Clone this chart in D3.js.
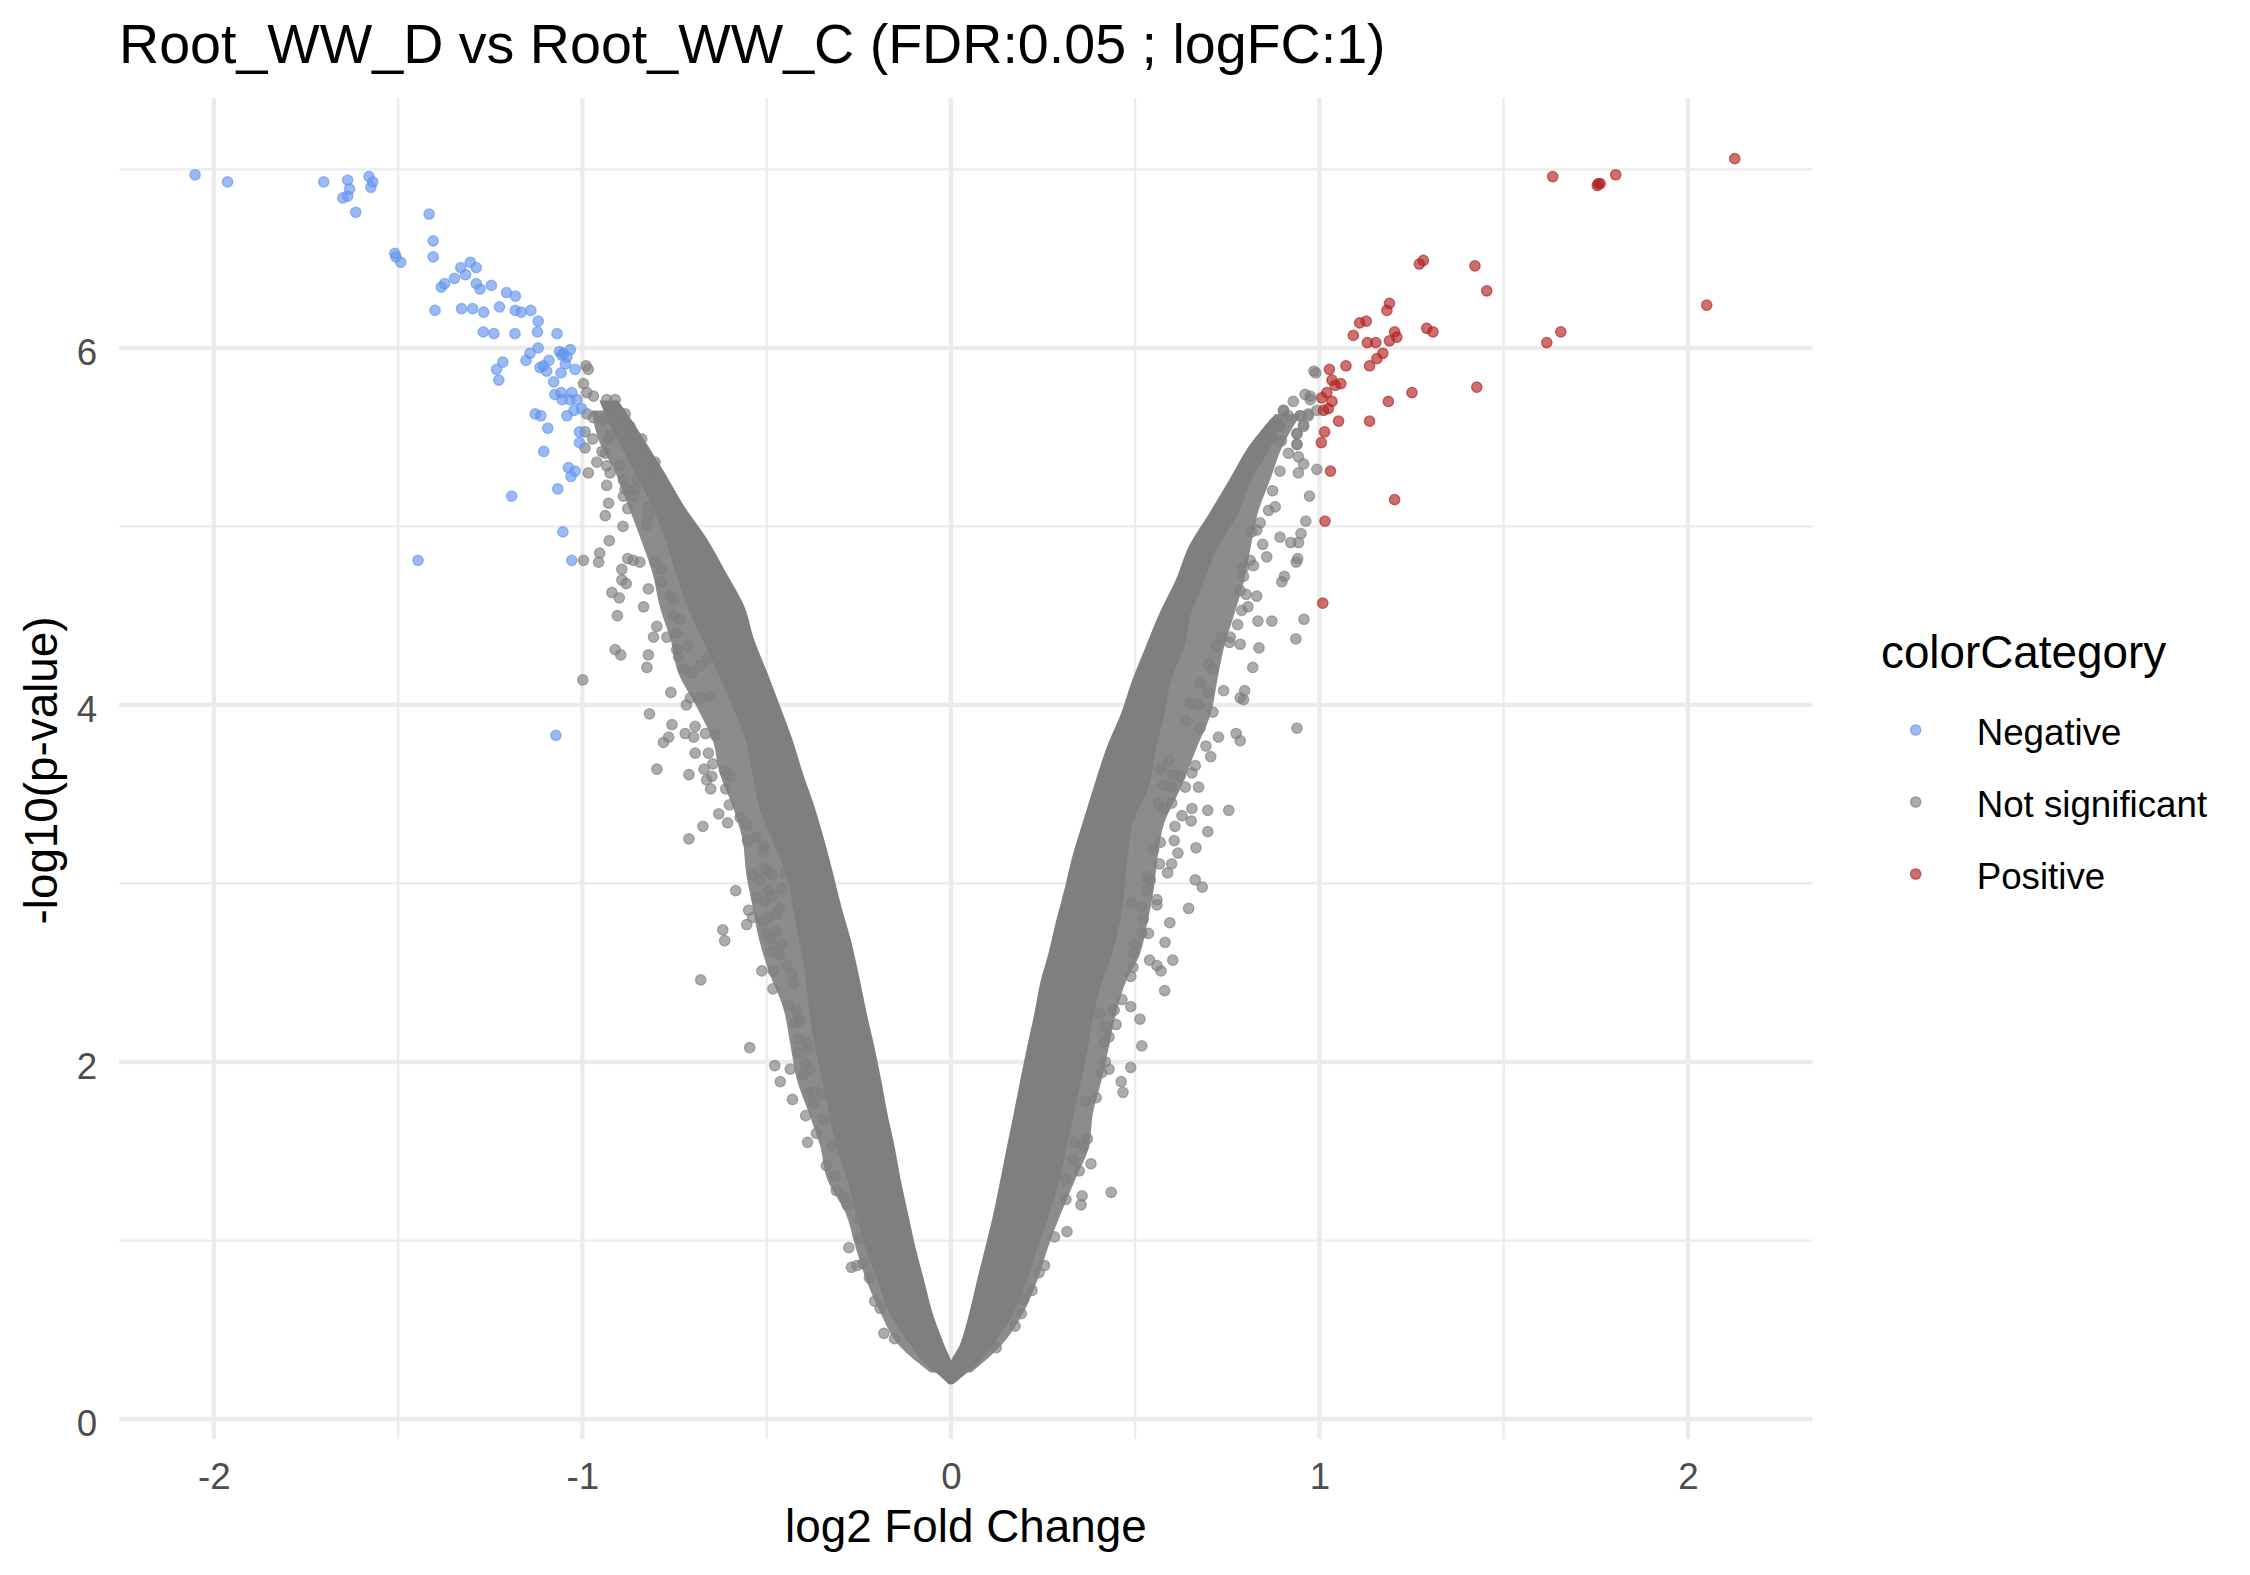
<!DOCTYPE html>
<html><head><meta charset="utf-8">
<script src="https://cdn.jsdelivr.net/npm/d3@7"></script>
<style>
body{margin:0;background:#fff}
svg{display:block}
text{font-family:"Liberation Sans",Arial,Helvetica,sans-serif}
</style>
</head><body>
<svg id="chart" width="2250" height="1575"></svg>
<script>
// ---------------- data ----------------
const titleText = "Root_WW_D vs Root_WW_C (FDR:0.05 ; logFC:1)";
const xLabel = "log2 Fold Change";
const yLabel = "-log10(p-value)";
const legendTitle = "colorCategory";
const categories = ["Negative", "Not significant", "Positive"];
const categoryColors = ["#6495ED", "#7F7F7F", "#B22222"];
const xTicks = [-2, -1, 0, 1, 2];
const yTicks = [0, 2, 4, 6];
const xMinorTicks = [-1.5, -0.5, 0.5, 1.5];
const yMinorTicks = [1, 3, 5, 7];

// significant, negative logFC  [log2FC, -log10 p]
const negativePoints = [
[-2.051,6.97],[-1.963,6.93],[-1.702,6.93],[-1.637,6.94],[-1.632,6.89],[-1.637,6.85],[-1.650,6.84],[-1.615,6.76],
[-1.579,6.96],[-1.569,6.93],[-1.574,6.90],[-1.416,6.75],[-1.405,6.60],[-1.405,6.51],[-1.509,6.53],[-1.506,6.51],
[-1.493,6.48],[-1.400,6.21],[-1.383,6.34],[-1.374,6.36],[-1.347,6.39],[-1.330,6.45],[-1.317,6.41],[-1.304,6.48],
[-1.288,6.45],[-1.288,6.36],[-1.278,6.33],[-1.247,6.35],[-1.328,6.22],[-1.298,6.22],[-1.268,6.20],[-1.225,6.23],
[-1.206,6.31],[-1.182,6.29],[-1.182,6.21],[-1.166,6.20],[-1.140,6.21],[-1.120,6.15],[-1.122,6.09],[-1.269,6.09],
[-1.240,6.08],[-1.183,6.08],[-1.069,6.08],[-1.120,6.00],[-1.142,5.97],[-1.153,5.93],[-1.216,5.92],[-1.233,5.88],
[-1.227,5.82],[-1.091,5.93],[-1.115,5.89],[-1.106,5.90],[-1.097,5.87],[-1.062,5.98],[-1.052,5.97],[-1.033,5.99],
[-1.056,5.96],[-1.042,5.95],[-1.046,5.91],[-1.058,5.86],[-1.020,5.88],[-1.078,5.81],[-1.075,5.74],[-1.058,5.75],
[-1.055,5.71],[-1.029,5.75],[-1.034,5.71],[-1.015,5.71],[-1.023,5.65],[-1.002,5.66],[-1.042,5.62],[-1.128,5.63],
[-1.113,5.62],[-1.094,5.55],[-1.008,5.53],[-1.008,5.47],[-1.105,5.42],[-1.038,5.33],[-1.020,5.31],[-1.031,5.28],
[-1.067,5.21],[-1.192,5.17],[-1.053,4.97],[-1.446,4.81],[-1.029,4.81],[-1.072,3.83]
];

// significant, positive logFC
const positivePoints = [
[2.127,7.06],[1.633,6.96],[1.804,6.97],[1.757,6.92],[1.754,6.91],[1.762,6.92],[1.282,6.49],[1.271,6.47],
[1.422,6.46],[1.454,6.32],[2.051,6.24],[1.190,6.25],[1.183,6.21],[1.109,6.14],[1.127,6.15],[1.092,6.07],
[1.130,6.03],[1.153,6.03],[1.204,6.09],[1.210,6.06],[1.190,6.04],[1.291,6.11],[1.308,6.09],[1.655,6.09],
[1.617,6.03],[1.172,5.97],[1.156,5.94],[1.136,5.90],[1.072,5.90],[1.027,5.88],[1.034,5.82],[1.043,5.79],
[1.058,5.80],[1.020,5.75],[1.006,5.72],[1.034,5.70],[1.011,5.65],[1.024,5.66],[1.052,5.59],[1.136,5.59],
[1.187,5.70],[1.251,5.75],[1.427,5.78],[1.014,5.53],[1.005,5.47],[1.030,5.31],[1.204,5.15],[1.015,5.03],
[1.009,4.57]
];

// not significant: individually visible points outside the dense core
const notSignificantPoints = [
[-0.990,5.90],[-0.984,5.88],[-0.997,5.80],[-0.988,5.75],[-0.970,5.73],[-0.934,5.71],[-0.911,5.71],[-0.907,5.65],
[-0.884,5.63],[-0.988,5.63],[-0.970,5.61],[-0.943,5.60],[-0.916,5.60],[-0.898,5.58],[-0.871,5.56],[-0.871,5.51],
[-0.839,5.49],[-0.993,5.53],[-0.972,5.49],[-0.993,5.44],[-0.925,5.51],[-0.929,5.49],[-0.947,5.42],[-0.938,5.41],
[-0.834,5.43],[-0.830,5.38],[-0.803,5.36],[-0.807,5.34],[-0.961,5.36],[-0.984,5.30],[-0.934,5.34],[-0.925,5.30],
[-0.898,5.34],[-0.889,5.26],[-0.934,5.23],[-0.884,5.21],[-0.857,5.21],[-0.852,5.27],[-0.834,5.28],[-0.807,5.29],
[-0.789,5.28],[-0.889,5.17],[-0.862,5.17],[-0.877,5.10],[-0.929,5.13],[-0.938,5.06],[-0.821,5.11],[-0.821,5.06],
[-0.825,5.01],[-0.890,5.00],[-0.927,4.92],[-0.953,4.85],[-0.956,4.80],[-0.997,4.81],[-0.877,4.82],[-0.862,4.81],
[-0.844,4.80],[-0.803,4.80],[-0.786,4.76],[-0.893,4.76],[-0.893,4.70],[-0.881,4.68],[-0.821,4.65],[-0.786,4.69],
[-0.920,4.63],[-0.900,4.60],[-0.834,4.55],[-0.905,4.50],[-0.762,4.61],[-0.753,4.59],[-0.798,4.44],[-0.807,4.38],
[-0.771,4.38],[-0.744,4.40],[-0.753,4.50],[-0.735,4.48],[-0.911,4.31],[-0.896,4.28],[-0.821,4.28],[-0.825,4.21],
[-0.744,4.31],[-0.712,4.33],[-0.739,4.27],[-0.726,4.20],[-0.703,4.18],[-0.681,4.22],[-0.662,4.26],[-0.999,4.14],
[-0.760,4.07],[-0.718,4.00],[-0.707,4.04],[-0.681,4.04],[-0.654,4.05],[-0.818,3.95],[-0.757,3.89],[-0.766,3.82],
[-0.780,3.79],[-0.721,3.84],[-0.698,3.82],[-0.666,3.84],[-0.639,3.83],[-0.694,3.73],[-0.658,3.73],[-0.694,3.88],
[-0.798,3.64],[-0.711,3.61],[-0.646,3.67],[-0.670,3.64],[-0.649,3.60],[-0.663,3.58],[-0.652,3.53],[-0.611,3.53],
[-0.613,3.63],[-0.599,3.60],[-0.673,3.32],[-0.711,3.25],[-0.630,3.39],[-0.606,3.34],[-0.601,3.44],[-0.572,3.37],
[-0.552,3.24],[-0.527,3.26],[-0.584,2.96],[-0.536,3.05],[-0.518,3.02],[-0.495,3.07],[-0.459,2.97],[-0.527,2.92],
[-0.505,2.90],[-0.549,2.85],[-0.538,2.81],[-0.554,2.77],[-0.509,2.79],[-0.619,2.74],[-0.614,2.68],[-0.500,2.72],
[-0.474,2.73],[-0.486,2.62],[-0.459,2.66],[-0.513,2.51],[-0.482,2.51],[-0.483,2.41],[-0.679,2.46],[-0.441,2.32],
[-0.419,2.29],[-0.414,2.23],[-0.423,2.22],[-0.414,2.13],[-0.392,2.11],[-0.414,2.05],[-0.546,2.08],
[-0.554,3.33],[-0.509,3.18],[-0.507,3.21],[-0.504,3.08],[-0.486,3.05],[-0.450,3.06],[-0.495,2.96],[-0.486,2.93],
[-0.495,2.81],[-0.473,2.83],[-0.464,2.86],[-0.489,2.69],[-0.464,2.60],[-0.445,2.54],[-0.432,2.49],[-0.427,2.44],
[-0.409,2.24],[-0.387,2.07],[-0.400,1.93],[-0.382,1.96],[-0.373,1.83],
[-0.478,1.98],[-0.436,1.96],[-0.463,1.89],[-0.430,1.79],[-0.394,1.70],[-0.365,1.60],[-0.389,1.55],[-0.396,1.99],
[-0.386,1.83],[-0.372,1.77],[-0.349,1.82],[-0.347,1.68],[-0.323,1.53],[-0.338,1.42],[-0.316,1.36],[-0.311,1.28],
[-0.289,1.24],[-0.282,1.20],[-0.277,0.96],[-0.270,0.85],[-0.255,0.86],[-0.239,0.87],[-0.221,0.79],[-0.250,1.12],
[-0.245,1.01],[-0.207,0.66],[-0.192,0.62],[-0.182,0.48],[-0.153,0.45],
[0.580,2.40],[0.488,2.31],[0.513,2.24],[0.518,2.09],[0.448,2.21],[0.419,2.20],[0.429,2.14],[0.416,2.11],
[0.464,2.35],[0.443,2.29],[0.404,2.27],[0.488,1.97],[0.419,2.00],[0.429,1.96],[0.409,1.94],[0.462,1.89],
[0.467,1.83],[0.394,1.80],[0.365,1.78],[0.370,1.57],[0.360,1.53],[0.336,1.55],[0.331,1.45],[0.380,1.43],
[0.348,1.39],[0.435,1.27],[0.356,1.25],[0.353,1.20],[0.312,1.23],[0.312,1.34],[0.315,1.05],[0.281,1.02],
[0.254,0.86],[0.239,0.82],[0.220,0.72],[0.196,0.67],[0.191,0.59],[0.174,0.52],[0.123,0.40],
[0.697,3.41],[0.754,3.41],[0.654,3.42],[0.652,3.35],[0.627,3.38],[0.608,3.32],[0.606,3.24],[0.697,3.29],
[0.665,3.20],[0.616,3.17],[0.599,3.11],[0.566,3.11],[0.588,3.06],[0.550,3.19],[0.568,3.23],[0.577,3.42],
[0.563,3.45],[0.599,3.45],[0.663,3.02],[0.682,2.98],[0.645,2.86],[0.531,3.04],[0.541,3.02],[0.531,2.96],
[0.559,2.91],[0.559,2.88],[0.522,2.80],[0.518,2.87],[0.491,2.89],[0.594,2.78],[0.581,2.67],[0.602,2.57],
[0.539,2.57],[0.559,2.54],[0.570,2.51],[0.536,2.72],[0.518,2.72],[0.500,2.66],[0.495,2.61],[0.494,2.53],
[0.488,2.48],
[0.973,5.17],[0.963,5.03],[0.993,5.32],[0.950,4.96],[0.943,4.91],[0.922,4.91],[0.893,4.94],[0.941,4.82],
[0.937,4.80],[0.905,4.72],[0.898,4.69],[0.958,4.48],[0.936,4.37],[0.939,3.87],[0.871,4.47],[0.833,4.47],
[0.846,4.90],[0.857,4.83],[0.821,4.78],[0.812,4.81],[0.794,4.77],[0.794,4.72],[0.785,4.64],[0.801,4.62],
[0.830,4.61],[0.806,4.55],[0.789,4.53],[0.839,5.02],[0.830,4.98],[0.816,4.97],[0.893,5.31],[0.873,5.20],
[0.880,5.11],[0.862,5.09],[0.939,5.52],[0.939,5.46],[0.916,5.41],[0.943,5.39],[0.957,5.35],[0.943,5.30],
[0.957,5.56],[0.948,5.62],[0.970,5.63],[0.889,5.56],[0.871,5.50],[0.903,5.65],[0.929,5.70],[0.961,5.74],
[0.975,5.73],[0.778,4.45],[0.758,4.38],[0.785,4.34],[0.756,4.35],[0.721,4.33],[0.735,4.38],[0.836,4.32],
[0.819,4.21],[0.740,4.08],[0.797,4.08],[0.699,4.07],[0.676,4.12],[0.699,4.23],[0.711,4.20],[0.785,4.04],
[0.794,4.03],[0.711,3.96],[0.672,4.00],[0.676,3.87],[0.649,4.01],[0.636,3.91],[0.774,3.84],[0.785,3.80],
[0.726,3.82],[0.692,3.77],[0.705,3.71],[0.663,3.66],[0.654,3.62],[0.602,3.61],[0.622,3.60],[0.570,3.64],
[0.590,3.69],[0.672,3.54],[0.636,3.54],[0.599,3.54],[0.577,3.55],
[0.990,5.86],[0.985,5.87],[0.975,5.71],[0.902,5.65],[0.916,5.62],[0.948,5.62],[0.970,5.62],[0.993,5.65],
[0.884,5.59],[0.875,5.56],[0.893,5.56],[0.957,5.57],[0.939,5.52],[0.839,5.48],[0.870,5.49],[0.897,5.48],
[0.939,5.46]
];

// dense, fully overlapping core of non-significant genes: [ -log10 p, left edge, right edge ]
const leftArmCore = [
[0.20,-0.005,0.000],[0.26,-0.037,0.000],[0.30,-0.062,0.000],[0.41,-0.105,-0.020],[0.59,-0.163,-0.052],
[0.78,-0.197,-0.076],[0.97,-0.231,-0.100],[1.15,-0.255,-0.119],[1.34,-0.279,-0.139],[1.53,-0.309,-0.156],
[1.71,-0.328,-0.175],[1.90,-0.347,-0.192],[2.09,-0.367,-0.211],[2.27,-0.381,-0.231],[2.48,-0.392,-0.252],
[2.68,-0.409,-0.274],[2.87,-0.427,-0.300],[3.06,-0.445,-0.323],[3.24,-0.482,-0.346],[3.43,-0.518,-0.373],
[3.62,-0.536,-0.405],[3.80,-0.554,-0.432],[3.99,-0.590,-0.466],[4.18,-0.630,-0.501],[4.36,-0.670,-0.536],
[4.55,-0.712,-0.563],[4.74,-0.744,-0.613],[4.92,-0.771,-0.662],[5.11,-0.808,-0.726],[5.30,-0.855,-0.780],
[5.48,-0.900,-0.834],[5.60,-0.930,-0.871],[5.70,-0.950,-0.905]
];
const rightArmCore = [
[0.20,0.000,0.005],[0.26,0.000,0.040],[0.30,0.000,0.065],[0.41,0.026,0.108],[0.59,0.052,0.166],
[0.78,0.074,0.205],[0.97,0.097,0.234],[1.15,0.118,0.264],[1.34,0.137,0.292],[1.53,0.155,0.312],
[1.71,0.173,0.331],[1.90,0.191,0.351],[2.09,0.210,0.370],[2.27,0.229,0.385],[2.46,0.247,0.409],
[2.59,0.265,0.432],[2.78,0.287,0.455],[2.96,0.310,0.468],[3.15,0.332,0.477],[3.34,0.360,0.490],
[3.52,0.387,0.530],[3.77,0.427,0.555],[3.95,0.464,0.577],[4.14,0.495,0.595],[4.33,0.532,0.631],
[4.51,0.568,0.649],[4.70,0.613,0.685],[4.89,0.649,0.722],[5.07,0.703,0.776],[5.26,0.758,0.812],
[5.45,0.812,0.866],[5.60,0.870,0.895]
];
// partly overlapping fringe around the core: [ -log10 p, left edge, right edge ]
const leftArmFringe = [
[0.26,-0.055,0.000],[0.41,-0.140,-0.020],[0.59,-0.190,-0.052],[0.78,-0.230,-0.076],[0.97,-0.260,-0.100],
[1.15,-0.285,-0.119],[1.34,-0.335,-0.139],[1.53,-0.355,-0.156],[1.71,-0.385,-0.175],[1.90,-0.418,-0.192],
[2.09,-0.435,-0.211],[2.31,-0.456,-0.235],[2.50,-0.493,-0.254],[2.68,-0.520,-0.274],[2.87,-0.538,-0.300],
[3.06,-0.556,-0.323],[3.24,-0.565,-0.346],[3.43,-0.592,-0.373],[3.62,-0.628,-0.405],[3.80,-0.646,-0.432],
[3.99,-0.690,-0.466],[4.18,-0.740,-0.501],[4.36,-0.760,-0.536],[4.55,-0.790,-0.563],[4.74,-0.810,-0.613],
[4.92,-0.840,-0.662],[5.11,-0.875,-0.726],[5.30,-0.910,-0.780],[5.48,-0.955,-0.834],[5.65,-0.975,-0.890]
];
const rightArmFringe = [
[0.26,0.000,0.055],[0.41,0.026,0.135],[0.59,0.052,0.195],[0.78,0.074,0.235],[0.97,0.097,0.265],
[1.15,0.118,0.298],[1.34,0.137,0.337],[1.53,0.155,0.375],[1.71,0.173,0.385],[1.90,0.191,0.409],
[2.09,0.210,0.429],[2.27,0.229,0.448],[2.46,0.247,0.477],[2.59,0.265,0.510],[2.78,0.287,0.533],
[2.96,0.310,0.550],[3.15,0.332,0.561],[3.34,0.360,0.579],[3.52,0.387,0.620],[3.77,0.427,0.669],
[3.95,0.464,0.705],[4.14,0.495,0.723],[4.33,0.532,0.742],[4.51,0.568,0.769],[4.70,0.613,0.796],
[4.89,0.649,0.814],[5.07,0.703,0.832],[5.26,0.758,0.866],[5.45,0.812,0.900],[5.63,0.880,0.950]
];

// ---------------- drawing ----------------
const svg = d3.select("#chart");
const panel = {left: 119.2, right: 1812.5, top: 98, bottom: 1439};
const x = d3.scaleLinear().domain([-2.257, 2.338]).range([panel.left, panel.right]);
const y = d3.scaleLinear().domain([-0.112, 7.40]).range([panel.bottom, panel.top]);
const color = d3.scaleOrdinal().domain(categories).range(categoryColors);
const gridColor = "#EBEBEB";
const alpha = 0.65;
const pointR = 5.2;

const grid = svg.append("g");
grid.selectAll(".vmin").data(xMinorTicks).join("line")
  .attr("x1", d => x(d)).attr("x2", d => x(d)).attr("y1", panel.top).attr("y2", panel.bottom)
  .attr("stroke", gridColor).attr("stroke-width", 2.2);
grid.selectAll(".hmin").data(yMinorTicks).join("line")
  .attr("y1", d => y(d)).attr("y2", d => y(d)).attr("x1", panel.left).attr("x2", panel.right)
  .attr("stroke", gridColor).attr("stroke-width", 2.2);
grid.selectAll(".vmaj").data(xTicks).join("line")
  .attr("x1", d => x(d)).attr("x2", d => x(d)).attr("y1", panel.top).attr("y2", panel.bottom)
  .attr("stroke", gridColor).attr("stroke-width", 4.3);
grid.selectAll(".hmaj").data(yTicks).join("line")
  .attr("y1", d => y(d)).attr("y2", d => y(d)).attr("x1", panel.left).attr("x2", panel.right)
  .attr("stroke", gridColor).attr("stroke-width", 4.3);

// dense cloud of non-significant genes
const bandArea = d3.area()
  .y(d => y(d[0])).x0(d => x(d[1])).x1(d => x(d[2]))
  .curve(d3.curveMonotoneY);
const cloud = svg.append("g");
[leftArmFringe, rightArmFringe].forEach(arm => {
  cloud.append("path").datum(arm).attr("d", bandArea)
    .attr("fill", "#7F7F7F").attr("fill-opacity", 0.9);
});
[leftArmCore, rightArmCore].forEach(arm => {
  cloud.append("path").datum(arm).attr("d", bandArea)
    .attr("fill", "#7F7F7F").attr("stroke", "#7F7F7F").attr("stroke-width", 2);
});

function drawPoints(data, cat) {
  const c = color(cat);
  svg.append("g").selectAll("circle").data(data).join("circle")
    .attr("cx", d => x(d[0])).attr("cy", d => y(d[1])).attr("r", pointR)
    .attr("fill", c).attr("fill-opacity", alpha)
    .attr("stroke", c).attr("stroke-opacity", alpha).attr("stroke-width", 1.3);
}
drawPoints(notSignificantPoints, "Not significant");
drawPoints(negativePoints, "Negative");
drawPoints(positivePoints, "Positive");

// axes
const tickFont = 36.7;
const xAxis = svg.append("g").attr("transform", `translate(0,${panel.bottom})`)
  .call(d3.axisBottom(x).tickValues(xTicks).tickSize(0).tickPadding(24).tickFormat(d => String(d)));
xAxis.select(".domain").remove();
xAxis.selectAll("text").attr("font-size", tickFont).attr("fill", "#4D4D4D")
  .attr("font-family", '"Liberation Sans",Arial,sans-serif');

const yAxis = svg.append("g").attr("transform", `translate(${panel.left},0)`)
  .call(d3.axisLeft(y).tickValues(yTicks).tickSize(0).tickPadding(22).tickFormat(d => String(d)));
yAxis.select(".domain").remove();
yAxis.selectAll("text").attr("font-size", tickFont).attr("fill", "#4D4D4D").attr("dy", "0.44em")
  .attr("font-family", '"Liberation Sans",Arial,sans-serif');

// titles
svg.append("text").attr("x", 119).attr("y", 63).attr("font-size", 55.6).attr("fill", "#000")
  .text(titleText);
svg.append("text").attr("x", (panel.left + panel.right) / 2).attr("y", 1542)
  .attr("text-anchor", "middle").attr("font-size", 45.8).attr("fill", "#000").text(xLabel);
svg.append("text").attr("transform", `translate(57,${(panel.top + panel.bottom) / 2 + 2}) rotate(-90)`)
  .attr("text-anchor", "middle").attr("font-size", 45.8).attr("fill", "#000").text(yLabel);

// legend
const legend = svg.append("g");
legend.append("text").attr("x", 1881).attr("y", 668).attr("font-size", 45.8).attr("fill", "#000")
  .text(legendTitle);
const keyY = d3.scalePoint().domain(categories).range([730, 874]);
const items = legend.selectAll(".item").data(categories).join("g");
items.append("circle").attr("cx", 1915.7).attr("cy", d => keyY(d)).attr("r", pointR)
  .attr("fill", d => color(d)).attr("fill-opacity", alpha)
  .attr("stroke", d => color(d)).attr("stroke-opacity", alpha).attr("stroke-width", 1.3);
items.append("text").attr("x", 1976.7).attr("y", d => keyY(d) + 14.5)
  .attr("font-size", tickFont).attr("fill", "#000").text(d => d);
</script>
</body></html>
